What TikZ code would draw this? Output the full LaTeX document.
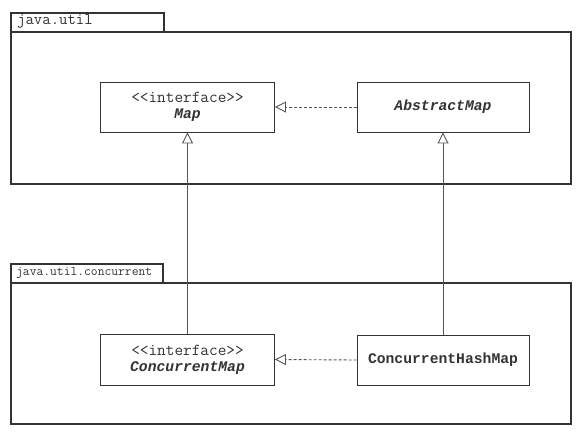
\documentclass[tikz,border=0pt]{standalone}
\usepackage{fontspec}
\newfontfamily\heavymono{Liberation Mono}
\usetikzlibrary{arrows.meta}
\definecolor{ink}{HTML}{333333}
\definecolor{lineg}{HTML}{555555}
\newcommand{\clsname}[1]{{\heavymono\fontsize{14.7}{17}\selectfont\bfseries #1}}
\tikzset{
  pkgbody/.style={draw=ink, line width=1.6pt, rectangle, inner sep=0pt, anchor=north west},
  pkgtab/.style={draw=ink, line width=1.6pt, rectangle, inner sep=0pt, anchor=north west, text=ink},
  cls/.style={draw=ink, line width=0.9pt, fill=white, rectangle, inner sep=0pt, align=center, text=ink,
    font=\ttfamily\fontsize{16.8}{18}\selectfont},
  realize/.style={draw=lineg, line width=0.9pt, dashed, dash pattern=on 3pt off 2pt, -{Triangle[open,length=11pt,width=11pt]}},
  inherit/.style={draw=lineg, line width=0.9pt, -{Triangle[open,length=11pt,width=11pt]}}
}
\begin{document}
\begin{tikzpicture}[x=1pt,y=-1pt]
\useasboundingbox[fill=white] (0,0) rectangle (587,440);
% packages
\node[pkgbody, minimum width=560pt, minimum height=152pt] (body1) at (10,31) {};
\node[pkgtab, minimum width=153pt, minimum height=19pt] (tab1) at (10,12) {};
\node[anchor=west, inner sep=0pt, text=ink, font=\ttfamily\fontsize{16.3}{18}\selectfont] (tab1lbl) at (17,21.5) {java.util};
\node[pkgbody, minimum width=560pt, minimum height=141pt] (body2) at (10,282) {};
\node[pkgtab, minimum width=152pt, minimum height=19pt] (tab2) at (10,263) {};
\node[anchor=west, inner sep=0pt, text=ink, font=\ttfamily\fontsize{13.2}{15}\selectfont] (tab2lbl) at (16,272.5) {java.util.concurrent};
% classes
\node[cls, minimum width=174pt, minimum height=50pt] (map) at (187.5,107) {{<}{<}interface{>}{>}\\[-2pt]\clsname{\itshape Map}};
\node[cls, minimum width=172pt, minimum height=50pt] (amap) at (443,107) {\clsname{\itshape AbstractMap}};
\node[cls, minimum width=174pt, minimum height=51pt] (cmap) at (187.5,359.5) {{<}{<}interface{>}{>}\\[-2pt]\clsname{\itshape ConcurrentMap}};
\node[cls, minimum width=172pt, minimum height=50pt] (chm) at (443,360) {\clsname{ConcurrentHashMap}};
% connectors
\draw[realize] (amap.west) -- (map.east);
\draw[realize] (chm.west) -- (cmap.east);
\draw[inherit] (cmap.north) -- (map.south);
\draw[inherit] (chm.north) -- (amap.south);
\end{tikzpicture}
\end{document}
